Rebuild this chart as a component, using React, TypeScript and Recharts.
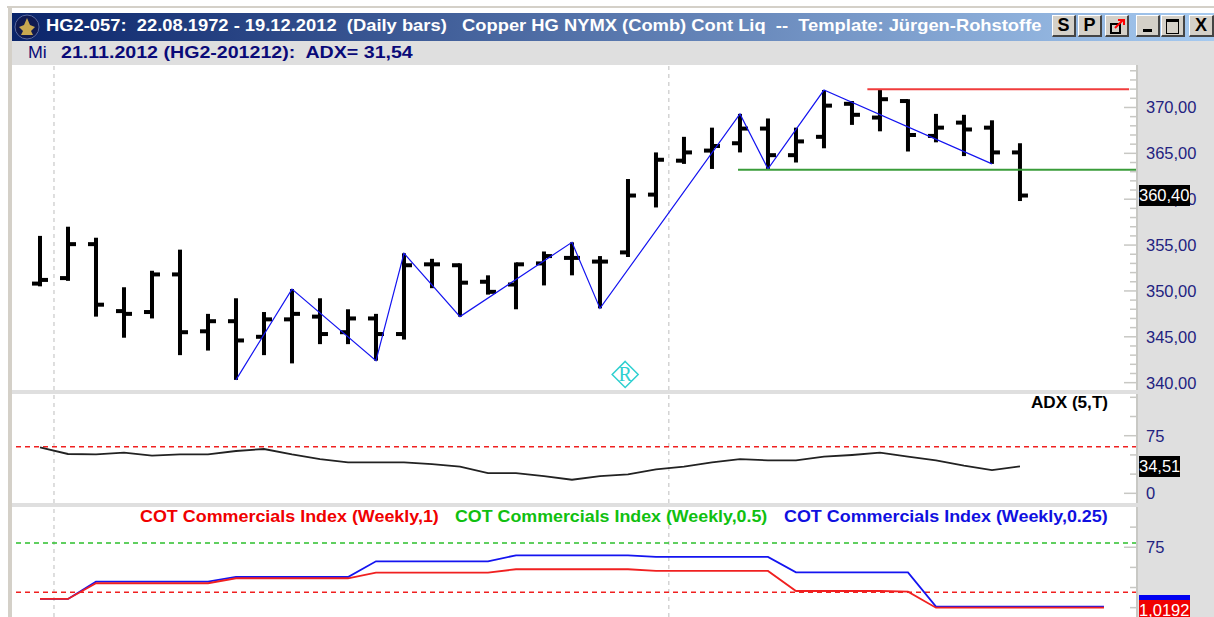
import React from "react";
import { ComposedChart, Bar, Line, XAxis, YAxis, ReferenceLine, ReferenceDot } from "recharts";

// daily bars, one entry per session
const opens = [350.8, 351.4, 355.1, 347.8, 347.7, 351.8, 345.6, 346.7, 345.0, 346.9, 347.2, 345.5, 347.0, 345.3, 352.9, 352.8, 351.0, 350.7, 353.0, 353.6, 353.2, 354.2, 360.5, 364.2, 365.3, 366.1, 367.7, 364.8, 366.8, 370.4, 368.9, 370.7, 366.9, 368.35, 367.8, 365.1];
const highs = [356.0, 357.0, 355.8, 350.4, 352.2, 354.5, 347.5, 349.2, 347.7, 350.2, 349.2, 348.0, 347.5, 354.1, 353.5, 353.0, 351.7, 353.1, 354.3, 355.3, 353.8, 362.2, 365.1, 366.8, 367.8, 369.3, 368.8, 367.8, 371.9, 370.7, 372.0, 370.9, 369.3, 369.2, 368.6, 366.1];
const lows = [350.5, 351.1, 347.2, 344.9, 347.0, 343.0, 343.5, 340.3, 343.0, 342.1, 344.2, 344.2, 342.4, 344.7, 350.3, 347.2, 349.6, 348.0, 350.6, 351.7, 348.1, 353.7, 359.1, 363.85, 363.3, 365.1, 363.3, 364.0, 365.55, 368.1, 367.4, 365.2, 366.2, 364.7, 363.85, 359.8];
const closes = [351.2, 355.1, 348.5, 347.5, 351.8, 345.5, 346.7, 344.6, 346.9, 347.5, 345.3, 347.0, 345.3, 352.8, 352.9, 350.9, 349.9, 352.9, 353.8, 353.6, 353.2, 360.4, 364.3, 365.1, 365.8, 367.7, 364.8, 366.3, 370.2, 369.2, 370.9, 367.0, 367.8, 367.6, 365.1, 360.4];

// swing line, only the turning bars carry a value
const zigzagBars = [7, 9, 12, 13, 15, 19, 20, 25, 26, 28, 34];
const zigzagValues = [340.3, 350.2, 342.4, 354.1, 347.2, 355.3, 348.1, 369.3, 363.3, 371.9, 363.85];

const adxValues = [59.8, 51.2, 50.7, 52.9, 49.0, 50.7, 50.7, 55.1, 57.7, 50.7, 44.6, 40.3, 40.3, 40.3, 38.1, 34.7, 26.4, 26.4, 22.5, 17.7, 22.5, 24.7, 31.2, 34.7, 40.3, 44.6, 42.9, 42.9, 47.7, 49.9, 52.9, 47.7, 42.9, 36.0, 30.3, 35.1];

const cotRed = [10.8, 10.8, 30.3, 30.3, 30.3, 30.3, 30.3, 36.5, 36.5, 36.5, 36.5, 36.5, 43.5, 43.5, 43.5, 43.5, 43.5, 47.7, 47.7, 47.7, 47.7, 47.7, 45.6, 45.6, 45.6, 45.6, 45.6, 20.7, 20.7, 20.7, 20.7, 19.9, 0, 0, 0, 0, 0, 0, 0];
const cotBlue = [10.8, 10.8, 32.3, 32.3, 32.3, 32.3, 32.3, 38.1, 38.1, 38.1, 38.1, 38.1, 57.6, 57.6, 57.6, 57.6, 57.6, 65, 65, 65, 65, 65, 63, 63, 63, 63, 63, 43.9, 43.9, 43.9, 43.9, 43.9, 1.3, 1.3, 1.3, 1.3, 1.3, 1.3, 1.3];

const monthLines = [0.5, 22.46];
const priceTicks = [340, 341, 342, 343, 344, 345, 346, 347, 348, 349, 350, 351, 352, 353, 354, 355, 356, 357, 358, 359, 360, 361, 362, 363, 364, 365, 366, 367, 368, 369, 370, 371, 372, 373, 374];
const adxTicks = [0, 25, 50, 75, 100, 125];
const cotTicks = [0, 25, 50, 75, 100];
const xDomain = [-1, 39.18];

const sessions = cotRed.map((_, i) => ({
  idx: i,
  range: i < highs.length ? [lows[i], highs[i]] : null,
  open: opens[i],
  close: closes[i],
  zigzag: zigzagBars.includes(i) ? zigzagValues[zigzagBars.indexOf(i)] : null,
  adx: adxValues[i] ?? null,
  red: cotRed[i],
  blue: cotBlue[i],
}));

const AXIS_COLOR = "#c8c8c4";
const LABEL_COLOR = "#23237f";
const UI_FONT = "'Liberation Sans', Arial, sans-serif";

function OhlcBar(props: any) {
  const { x, y, width, height, payload } = props;
  if (!payload || !payload.range) return null;
  const [low, high] = payload.range;
  const perUnit = height / (high - low);
  const cx = x + width / 2;
  const openY = y + (high - payload.open) * perUnit;
  const closeY = y + (high - payload.close) * perUnit;
  return (
    <g fill="#000">
      <rect x={cx - 2} y={y} width={4} height={height} />
      <rect x={cx - 8} y={openY - 2} width={8} height={4} />
      <rect x={cx} y={closeY - 2} width={8} height={4} />
    </g>
  );
}

function scaleTick(format: (v: number) => string | null) {
  return function ScaleTick(props: any) {
    const { x, y, payload } = props;
    const label = format(payload.value);
    return (
      <g>
        <line x1={x - (label ? 13 : 7)} x2={x} y1={y} y2={y} stroke={AXIS_COLOR} strokeWidth={1.5} />
        {label && (
          <text x={x + 9} y={y + 6} fontFamily={UI_FONT} fontSize={16.5} fill={LABEL_COLOR}>
            {label}
          </text>
        )}
      </g>
    );
  };
}

const priceTick = scaleTick((v) => (v % 5 === 0 ? v.toFixed(2).replace(".", ",") : null));
const adxTick = scaleTick((v) => (v === 0 || v === 75 ? String(v) : null));
const cotTick = scaleTick((v) => (v === 75 ? String(v) : null));

function RegMark(props: any) {
  const { cx, cy } = props;
  return (
    <g>
      <polygon
        points={`${cx},${cy - 13} ${cx + 13},${cy} ${cx},${cy + 13} ${cx - 13},${cy}`}
        fill="#fff"
        stroke="#2fd0d0"
        strokeWidth={1.5}
      />
      <text x={cx} y={cy + 7} textAnchor="middle" fontFamily="'Liberation Serif', serif" fontSize={20} fill="#2fd0d0">
        R
      </text>
    </g>
  );
}

function Panel({ top, height, yDomain, ticks, tick, children }: any) {
  return (
    <div style={{ position: "absolute", left: 12, top, width: 1202, height }}>
      <div style={{ position: "absolute", left: 0, top: 0, width: 1125, height, background: "#fff" }} />
      <ComposedChart
        width={1202}
        height={height}
        data={sessions}
        margin={{ top: 0, right: 0, bottom: 0, left: 0 }}
        style={{ position: "absolute", left: 0, top: 0 }}
      >
        <XAxis dataKey="idx" type="number" domain={xDomain} hide />
        <YAxis
          orientation="right"
          width={77}
          domain={yDomain}
          ticks={ticks}
          tick={tick}
          interval={0}
          tickLine={false}
          tickSize={0}
          tickMargin={0}
          allowDataOverflow
          stroke={AXIS_COLOR}
          strokeWidth={2}
        />
        {monthLines.map((m) => (
          <ReferenceLine key={m} x={m} stroke="#bdbdbd" strokeDasharray="4 4" />
        ))}
        {children}
      </ComposedChart>
    </div>
  );
}

function TitleButton({ left, width, children }: any) {
  return (
    <div
      style={{
        position: "absolute",
        left,
        top: 15,
        width,
        height: 22,
        boxSizing: "border-box",
        background: "#d4d0c8",
        borderTop: "1px solid #fff",
        borderLeft: "1px solid #fff",
        borderRight: "2px solid #444",
        borderBottom: "2px solid #444",
        textAlign: "center",
        fontFamily: UI_FONT,
        fontWeight: 700,
        fontSize: 18,
        lineHeight: "19px",
        color: "#000",
      }}
    >
      {children}
    </div>
  );
}

// the source picture is a bit stretched sideways, so text gets a small x scale
function Caption({ left, top, color, size, stretch, bold = true, children }: any) {
  return (
    <div
      style={{
        position: "absolute",
        left,
        top,
        color,
        fontFamily: UI_FONT,
        fontWeight: bold ? 700 : 400,
        fontSize: size,
        lineHeight: "20px",
        whiteSpace: "pre",
        transform: `scaleX(${stretch})`,
        transformOrigin: "left center",
      }}
    >
      {children}
    </div>
  );
}

function ValueBox({ left, top, width, height, bg, children }: any) {
  return (
    <div
      style={{
        position: "absolute",
        left,
        top,
        width,
        height,
        background: bg,
        color: "#fff",
        fontFamily: UI_FONT,
        fontSize: 16.5,
        lineHeight: `${height}px`,
        overflow: "hidden",
        whiteSpace: "pre",
      }}
    >
      {children}
    </div>
  );
}

export default function App() {
  return (
    <div style={{ position: "absolute", left: 0, top: 0, width: 1214, height: 617, overflow: "hidden", background: "#fff" }}>
      {/* window frame */}
      <div style={{ position: "absolute", left: 7, top: 6, width: 1207, height: 2, background: "#d4d0c8" }} />
      <div style={{ position: "absolute", left: 8, top: 8, width: 4, height: 609, background: "#d4d0c8" }} />
      <div style={{ position: "absolute", left: 12, top: 41, width: 1202, height: 576, background: "#dfdfdf" }} />

      {/* title bar */}
      <div
        style={{
          position: "absolute",
          left: 12,
          top: 13,
          width: 1202,
          height: 28,
          background: "linear-gradient(to right, #0a246a, #a6caf0)",
        }}
      />
      <svg style={{ position: "absolute", left: 14, top: 14 }} width={26} height={26}>
        <circle cx={13} cy={13} r={12} fill="#101a50" stroke="#5a6aa0" />
        <path d="M13 4 L16 11 L21 13 L17 17 L19 21 L7 21 L9 17 L5 13 L10 11 Z" fill="#c8a850" />
      </svg>
      <Caption left={46} top={16} color="#fff" size={17} stretch={1.079}>
        {"HG2-057:  22.08.1972 - 19.12.2012  (Daily bars)   Copper HG NYMX (Comb) Cont Liq  --  Template: Jürgen-Rohstoffe"}
      </Caption>
      <TitleButton left={1052} width={24}>S</TitleButton>
      <TitleButton left={1078} width={24}>P</TitleButton>
      <TitleButton left={1105} width={24}>
        <svg width={18} height={16} style={{ marginTop: 2 }}>
          <rect x={3} y={6} width={9} height={9} fill="none" stroke="#000" strokeWidth={2} />
          <path d="M7 10 L15 2 M10 2 L16 2 L16 7" fill="none" stroke="#f00" strokeWidth={2} />
        </svg>
      </TitleButton>
      <TitleButton left={1136} width={24}>
        <div style={{ width: 9, height: 3, background: "#000", margin: "13px auto 0" }} />
      </TitleButton>
      <TitleButton left={1161} width={24}>
        <div style={{ width: 11, height: 11, border: "1.5px solid #000", borderTopWidth: 3, margin: "3px auto 0" }} />
      </TitleButton>
      <TitleButton left={1189} width={25}>X</TitleButton>

      {/* cursor read-out */}
      <Caption left={28} top={43} color="#0a0a78" size={17} stretch={1.05} bold={false}>Mi</Caption>
      <Caption left={61} top={43} color="#0a0a78" size={17} stretch={1.153}>
        {"21.11.2012 (HG2-201212):  ADX= 31,54"}
      </Caption>

      {/* price panel */}
      <Panel top={65} height={325} yDomain={[339.2, 374.63]} ticks={priceTicks} tick={priceTick}>
        <Bar dataKey="range" barSize={4} shape={<OhlcBar />} isAnimationActive={false} />
        <Line
          dataKey="zigzag"
          stroke="#1414f0"
          strokeWidth={1.2}
          dot={false}
          connectNulls
          isAnimationActive={false}
        />
        <ReferenceLine segment={[{ x: 29.55, y: 371.98 }, { x: 38.9, y: 371.98 }]} stroke="#f03c3c" strokeWidth={2} />
        <ReferenceLine segment={[{ x: 24.93, y: 363.2 }, { x: 39.18, y: 363.2 }]} stroke="#3a9c3a" strokeWidth={2} />
        <ReferenceDot x={20.9} y={340.9} r={13} shape={<RegMark />} />
      </Panel>
      <ValueBox left={1139} top={185} width={51} height={21} bg="#000">360,40</ValueBox>

      {/* ADX panel */}
      <Panel top={394} height={109} yDomain={[-12.6, 129.3]} ticks={adxTicks} tick={adxTick}>
        <ReferenceLine y={60.5} stroke="#f02020" strokeWidth={1.5} strokeDasharray="5 4" />
        <Line dataKey="adx" stroke="#222" strokeWidth={1.8} dot={false} isAnimationActive={false} />
      </Panel>
      <Caption left={1031} top={393} color="#000" size={16} stretch={1.07}>ADX (5,T)</Caption>
      <ValueBox left={1139} top={456} width={41} height={21} bg="#000">34,51</ValueBox>

      {/* COT panel */}
      <Panel top={507} height={110} yDomain={[-11.6, 125]} ticks={cotTicks} tick={cotTick}>
        <ReferenceLine y={80.4} stroke="#2cc02c" strokeWidth={1.5} strokeDasharray="5 4" />
        <ReferenceLine y={19} stroke="#f02020" strokeWidth={1.5} strokeDasharray="5 4" />
        <Line dataKey="blue" stroke="#1414f0" strokeWidth={1.8} dot={false} isAnimationActive={false} />
        <Line dataKey="red" stroke="#f02020" strokeWidth={1.8} dot={false} isAnimationActive={false} />
      </Panel>
      <Caption left={140} top={506} color="#f00000" size={16.5} stretch={1.085}>COT Commercials Index (Weekly,1)</Caption>
      <Caption left={455} top={506} color="#10c010" size={16.5} stretch={1.08}>COT Commercials Index (Weekly,0.5)</Caption>
      <Caption left={784} top={506} color="#1010e0" size={16.5} stretch={1.085}>COT Commercials Index (Weekly,0.25)</Caption>
      <div style={{ position: "absolute", left: 1139, top: 595, width: 51, height: 5, background: "#0000f0" }} />
      <ValueBox left={1139} top={600} width={51} height={21} bg="#f00000">1,0192</ValueBox>
    </div>
  );
}
